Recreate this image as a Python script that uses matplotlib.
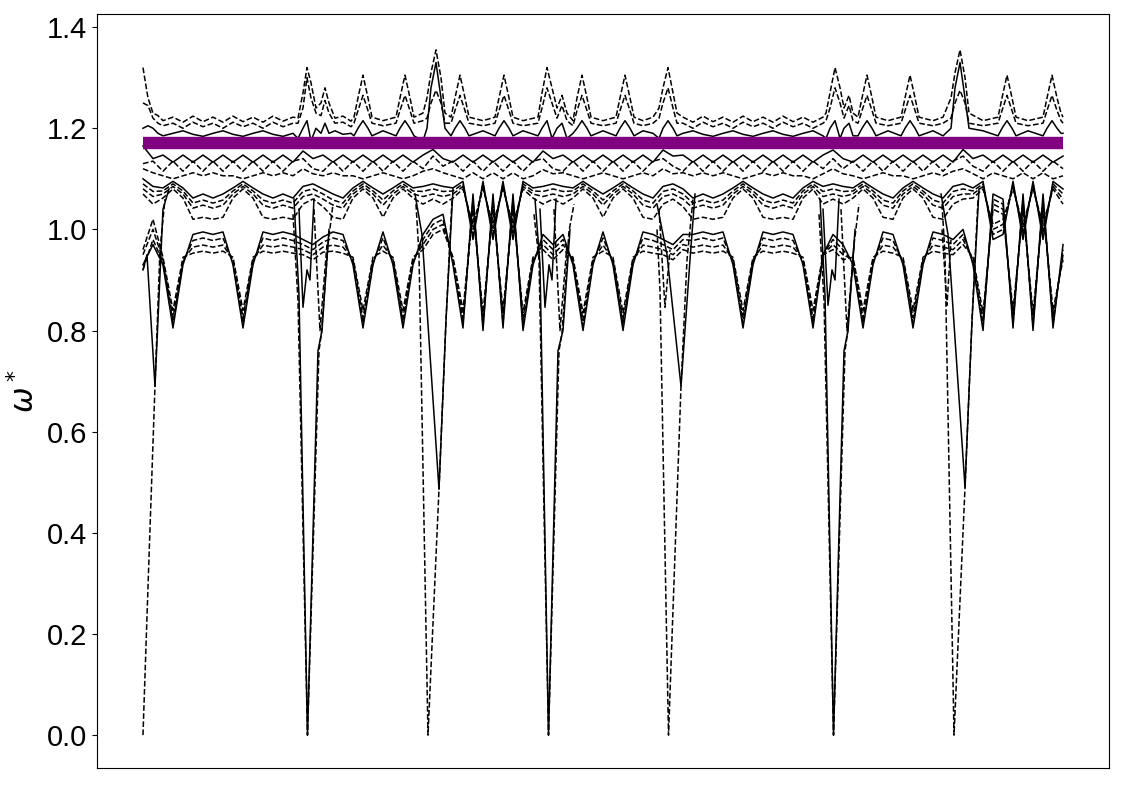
import matplotlib
matplotlib.use('Agg')
import matplotlib.pyplot as plt
import numpy as np

plt.rcParams['font.family'] = ['Liberation Sans', 'DejaVu Sans']

# path coordinate (arbitrary units along the k-path), band grid every 10 units
k_grid = np.arange(0, 921, 10)

# lower bands that dip into the ~0.8 valleys
u1 = [0.93, 0.97, 0.93, 0.805, 0.93, 0.99, 0.995, 0.99, 0.995, 0.93,
      0.805, 0.93, 0.995, 0.99, 0.995, 0.99, 0.98, 0.97, 0.985, 0.995,
      0.99, 0.93, 0.805, 0.93, 0.995, 0.93, 0.805, 0.93, 0.99, 1.02,
      1.03, 0.93, 0.805, 1.07, 0.80, 1.07, 0.805, 1.07, 0.80, 0.93,
      0.99, 0.97, 0.99, 0.93, 0.80, 0.93, 0.995, 0.93, 0.80, 0.93,
      0.995, 0.99, 0.98, 0.97, 0.99, 0.99, 0.995, 0.99, 0.995, 0.93,
      0.805, 0.93, 0.995, 0.99, 0.995, 0.99, 0.93, 0.805, 0.95, 0.99,
      0.97, 0.93, 0.805, 0.93, 0.995, 0.99, 0.93, 0.805, 0.93, 0.995,
      0.99, 0.98, 1.0, 0.93, 0.80, 1.07, 1.06, 0.805, 1.07, 0.80,
      1.07, 0.805, 0.97]
u2 = [0.92, 0.98, 0.935, 0.815, 0.935, 0.978, 0.983, 0.978, 0.983, 0.935,
      0.815, 0.935, 0.983, 0.978, 0.983, 0.978, 0.97, 0.96, 0.975, 0.983,
      0.978, 0.935, 0.815, 0.935, 0.983, 0.935, 0.815, 0.935, 0.98, 1.01,
      1.02, 0.935, 0.815, 1.06, 0.81, 1.06, 0.815, 1.06, 0.81, 0.935,
      0.98, 0.96, 0.98, 0.935, 0.81, 0.935, 0.983, 0.935, 0.81, 0.935,
      0.983, 0.978, 0.97, 0.96, 0.98, 0.978, 0.983, 0.978, 0.983, 0.935,
      0.815, 0.935, 0.983, 0.978, 0.983, 0.978, 0.935, 0.815, 0.95, 0.98,
      0.96, 0.935, 0.815, 0.935, 0.983, 0.978, 0.935, 0.815, 0.935, 0.983,
      0.978, 0.97, 0.99, 0.935, 0.81, 1.06, 1.05, 0.815, 1.06, 0.81,
      1.06, 0.815, 0.96]
u3 = [0.95, 1.0, 0.94, 0.825, 0.94, 0.965, 0.969, 0.965, 0.969, 0.94,
      0.825, 0.94, 0.969, 0.965, 0.969, 0.965, 0.96, 0.95, 0.965, 0.969,
      0.965, 0.94, 0.825, 0.94, 0.969, 0.94, 0.825, 0.94, 0.97, 1.0,
      1.01, 0.94, 0.825, 1.05, 0.82, 1.05, 0.825, 1.05, 0.82, 0.94,
      0.97, 0.95, 0.97, 0.94, 0.82, 0.94, 0.969, 0.94, 0.82, 0.94,
      0.969, 0.965, 0.96, 0.95, 0.97, 0.965, 0.969, 0.965, 0.969, 0.94,
      0.825, 0.94, 0.969, 0.965, 0.969, 0.965, 0.94, 0.825, 0.95, 0.97,
      0.95, 0.94, 0.825, 0.94, 0.969, 0.965, 0.94, 0.825, 0.94, 0.969,
      0.965, 0.96, 0.98, 0.94, 0.82, 1.05, 1.04, 0.825, 1.05, 0.82,
      1.05, 0.825, 0.95]
u4 = [0.96, 1.02, 0.945, 0.84, 0.945, 0.953, 0.957, 0.953, 0.957, 0.945,
      0.84, 0.945, 0.957, 0.953, 0.957, 0.953, 0.95, 0.94, 0.955, 0.957,
      0.953, 0.945, 0.84, 0.945, 0.957, 0.945, 0.84, 0.945, 0.96, 0.99,
      1.0, 0.945, 0.84, 1.04, 0.835, 1.04, 0.84, 1.04, 0.835, 0.945,
      0.96, 0.94, 0.96, 0.945, 0.835, 0.945, 0.957, 0.945, 0.835, 0.945,
      0.957, 0.953, 0.95, 0.94, 0.96, 0.953, 0.957, 0.953, 0.957, 0.945,
      0.84, 0.945, 0.957, 0.953, 0.957, 0.953, 0.945, 0.84, 0.95, 0.96,
      0.94, 0.945, 0.84, 0.945, 0.957, 0.953, 0.945, 0.84, 0.945, 0.957,
      0.953, 0.95, 0.97, 0.945, 0.835, 1.04, 1.03, 0.84, 1.04, 0.835,
      1.04, 0.84, 0.94]

# bands that bulge up to ~1.09 over the valleys
n1 = [1.10, 1.085, 1.082, 1.095, 1.082, 1.062, 1.07, 1.062, 1.07, 1.082,
      1.095, 1.082, 1.07, 1.062, 1.07, 1.062, 1.085, 1.09, 1.08, 1.07,
      1.062, 1.082, 1.095, 1.082, 1.07, 1.082, 1.095, 1.082, 1.085, 1.09,
      1.085, 1.082, 1.095, 0.98, 1.095, 0.98, 1.095, 0.98, 1.095, 1.082,
      1.085, 1.09, 1.085, 1.082, 1.095, 1.082, 1.07, 1.082, 1.095, 1.082,
      1.07, 1.062, 1.085, 1.09, 1.08, 1.062, 1.07, 1.062, 1.07, 1.082,
      1.095, 1.082, 1.07, 1.062, 1.07, 1.062, 1.082, 1.095, 1.085, 1.09,
      1.085, 1.082, 1.095, 1.082, 1.07, 1.062, 1.082, 1.095, 1.082, 1.07,
      1.062, 1.085, 1.09, 1.082, 1.095, 0.98, 0.99, 1.095, 0.98, 1.095,
      0.98, 1.095, 1.08]
n2 = [1.09, 1.075, 1.076, 1.09, 1.076, 1.052, 1.058, 1.052, 1.058, 1.076,
      1.09, 1.076, 1.058, 1.052, 1.058, 1.052, 1.075, 1.08, 1.07, 1.058,
      1.052, 1.076, 1.09, 1.076, 1.058, 1.076, 1.09, 1.076, 1.075, 1.08,
      1.075, 1.076, 1.09, 0.99, 1.09, 0.99, 1.09, 0.99, 1.09, 1.076,
      1.075, 1.08, 1.075, 1.076, 1.09, 1.076, 1.058, 1.076, 1.09, 1.076,
      1.058, 1.052, 1.075, 1.08, 1.07, 1.052, 1.058, 1.052, 1.058, 1.076,
      1.09, 1.076, 1.058, 1.052, 1.058, 1.052, 1.076, 1.09, 1.075, 1.08,
      1.075, 1.076, 1.09, 1.076, 1.058, 1.052, 1.076, 1.09, 1.076, 1.058,
      1.052, 1.075, 1.08, 1.076, 1.09, 0.99, 1.0, 1.09, 0.99, 1.09,
      0.99, 1.09, 1.07]
n3 = [1.08, 1.065, 1.07, 1.085, 1.07, 1.042, 1.048, 1.042, 1.048, 1.07,
      1.085, 1.07, 1.048, 1.042, 1.048, 1.042, 1.065, 1.07, 1.06, 1.048,
      1.042, 1.07, 1.085, 1.07, 1.048, 1.07, 1.085, 1.07, 1.065, 1.07,
      1.065, 1.07, 1.085, 1.0, 1.085, 1.0, 1.085, 1.0, 1.085, 1.07,
      1.065, 1.07, 1.065, 1.07, 1.085, 1.07, 1.048, 1.07, 1.085, 1.07,
      1.048, 1.042, 1.065, 1.07, 1.06, 1.042, 1.048, 1.042, 1.048, 1.07,
      1.085, 1.07, 1.048, 1.042, 1.048, 1.042, 1.07, 1.085, 1.065, 1.07,
      1.065, 1.07, 1.085, 1.07, 1.048, 1.042, 1.07, 1.085, 1.07, 1.048,
      1.042, 1.065, 1.07, 1.07, 1.085, 1.0, 1.01, 1.085, 1.0, 1.085,
      1.0, 1.085, 1.06]
n4 = [1.07, 1.05, 1.062, 1.08, 1.062, 1.02, 1.024, 1.02, 1.024, 1.062,
      1.08, 1.062, 1.024, 1.02, 1.024, 1.02, 1.05, 1.06, 1.045, 1.024,
      1.02, 1.062, 1.08, 1.062, 1.024, 1.062, 1.08, 1.062, 1.05, 1.06,
      1.05, 1.062, 1.08, 1.01, 1.08, 1.01, 1.08, 1.01, 1.08, 1.062,
      1.05, 1.06, 1.05, 1.062, 1.08, 1.062, 1.024, 1.062, 1.08, 1.062,
      1.024, 1.02, 1.05, 1.06, 1.045, 1.02, 1.024, 1.02, 1.024, 1.062,
      1.08, 1.062, 1.024, 1.02, 1.024, 1.02, 1.062, 1.08, 1.05, 1.06,
      1.05, 1.062, 1.08, 1.062, 1.024, 1.02, 1.062, 1.08, 1.062, 1.024,
      1.02, 1.05, 1.06, 1.062, 1.08, 1.01, 1.02, 1.08, 1.01, 1.08,
      1.01, 1.08, 1.05]

# bands just under the purple line
p1 = [1.165, 1.14, 1.147, 1.133, 1.147, 1.133, 1.147, 1.133, 1.147, 1.133,
      1.147, 1.133, 1.147, 1.133, 1.147, 1.133, 1.155, 1.14, 1.147, 1.133,
      1.147, 1.133, 1.147, 1.133, 1.147, 1.133, 1.147, 1.133, 1.147, 1.158,
      1.14, 1.133, 1.147, 1.133, 1.147, 1.133, 1.147, 1.133, 1.147, 1.133,
      1.155, 1.14, 1.147, 1.133, 1.147, 1.133, 1.147, 1.133, 1.147, 1.133,
      1.147, 1.133, 1.157, 1.145, 1.147, 1.133, 1.147, 1.133, 1.147, 1.133,
      1.147, 1.133, 1.147, 1.133, 1.147, 1.133, 1.147, 1.133, 1.147, 1.157,
      1.14, 1.133, 1.147, 1.133, 1.147, 1.133, 1.147, 1.133, 1.147, 1.133,
      1.147, 1.133, 1.158, 1.14, 1.147, 1.133, 1.147, 1.133, 1.147, 1.133,
      1.147, 1.133, 1.145]
p2 = [1.13, 1.135, 1.115, 1.135, 1.115, 1.135, 1.115, 1.135, 1.115, 1.135,
      1.115, 1.135, 1.115, 1.135, 1.115, 1.135, 1.14, 1.12, 1.115, 1.135,
      1.115, 1.135, 1.115, 1.135, 1.115, 1.135, 1.115, 1.135, 1.12, 1.145,
      1.125, 1.135, 1.115, 1.135, 1.115, 1.135, 1.115, 1.135, 1.115, 1.135,
      1.14, 1.12, 1.115, 1.135, 1.115, 1.135, 1.115, 1.135, 1.115, 1.135,
      1.115, 1.135, 1.14, 1.125, 1.115, 1.135, 1.115, 1.135, 1.115, 1.135,
      1.115, 1.135, 1.115, 1.135, 1.115, 1.135, 1.115, 1.135, 1.12, 1.14,
      1.12, 1.135, 1.115, 1.135, 1.115, 1.135, 1.115, 1.135, 1.115, 1.135,
      1.115, 1.135, 1.145, 1.125, 1.115, 1.135, 1.115, 1.135, 1.115, 1.135,
      1.115, 1.135, 1.12]
p3 = [1.12, 1.112, 1.106, 1.1, 1.106, 1.112, 1.106, 1.112, 1.106, 1.106,
      1.1, 1.106, 1.112, 1.106, 1.112, 1.106, 1.12, 1.11, 1.106, 1.112,
      1.106, 1.106, 1.1, 1.106, 1.112, 1.106, 1.1, 1.106, 1.115, 1.12,
      1.112, 1.106, 1.1, 1.112, 1.1, 1.112, 1.1, 1.112, 1.1, 1.106,
      1.118, 1.11, 1.112, 1.106, 1.1, 1.106, 1.112, 1.106, 1.1, 1.106,
      1.112, 1.106, 1.12, 1.11, 1.112, 1.106, 1.112, 1.106, 1.112, 1.106,
      1.1, 1.106, 1.112, 1.106, 1.112, 1.106, 1.106, 1.1, 1.11, 1.12,
      1.11, 1.106, 1.1, 1.106, 1.112, 1.106, 1.106, 1.1, 1.106, 1.112,
      1.106, 1.115, 1.12, 1.11, 1.1, 1.112, 1.106, 1.1, 1.112, 1.1,
      1.112, 1.1, 1.106]

# upper bands with narrow peaks
top_x = [0, 5, 10, 15, 20, 30, 40, 50, 60, 70, 80, 90, 100, 110, 120, 130, 140, 150,
         155, 160, 164, 168, 173, 178, 182, 186, 192, 200, 208,
         211, 215, 220, 225, 229, 240,
         253, 257, 262, 267, 271, 280,
         284, 288, 293, 298, 302,
         308, 312, 317, 322, 326,
         340, 352, 356, 361, 366, 370, 380,
         395, 399, 404, 409, 414, 419, 424, 430,
         434, 439, 444, 448, 460,
         473, 477, 482, 487, 491, 500, 510,
         516, 520, 525, 530, 534,
         540, 550, 560, 570, 580, 590, 600, 610, 620, 630, 640, 650, 660, 670, 680,
         683, 687, 692, 697, 701, 706, 710,
         715, 719, 724, 729, 733, 745,
         758, 762, 767, 772, 776, 790,
         800, 808, 812, 817, 822, 826,
         840, 855, 859, 864, 869, 873, 885,
         900, 904, 909, 914, 918, 920]
top_outer = [1.32, 1.26, 1.23, 1.225, 1.215, 1.222, 1.212, 1.224, 1.213, 1.222, 1.212, 1.224, 1.213, 1.222, 1.212, 1.224, 1.214, 1.222,
             1.22, 1.27, 1.32, 1.29, 1.24, 1.25, 1.28, 1.25, 1.22, 1.224, 1.214,
             1.222, 1.26, 1.305, 1.26, 1.222, 1.215,
             1.222, 1.26, 1.305, 1.26, 1.222, 1.23,
             1.26, 1.31, 1.355, 1.3, 1.23,
             1.222, 1.26, 1.305, 1.26, 1.222,
             1.215, 1.222, 1.26, 1.305, 1.26, 1.222, 1.215,
             1.222, 1.27, 1.32, 1.28, 1.24, 1.265, 1.23, 1.215,
             1.26, 1.305, 1.26, 1.222, 1.215,
             1.222, 1.26, 1.305, 1.26, 1.222, 1.215, 1.222,
             1.24, 1.28, 1.32, 1.27, 1.23,
             1.222, 1.212, 1.224, 1.213, 1.222, 1.212, 1.224, 1.213, 1.222, 1.212, 1.224, 1.213, 1.222, 1.212, 1.222,
             1.23, 1.27, 1.32, 1.28, 1.24, 1.265, 1.23,
             1.222, 1.26, 1.305, 1.26, 1.222, 1.215,
             1.222, 1.26, 1.305, 1.26, 1.222, 1.215,
             1.222, 1.26, 1.31, 1.355, 1.3, 1.23,
             1.215, 1.222, 1.26, 1.305, 1.26, 1.222, 1.215,
             1.222, 1.26, 1.305, 1.26, 1.23, 1.222]
top_inner = [1.25, 1.245, 1.22, 1.21, 1.205, 1.21, 1.2, 1.212, 1.203, 1.21, 1.2, 1.212, 1.203, 1.21, 1.2, 1.212, 1.203, 1.21,
             1.21, 1.24, 1.3, 1.26, 1.23, 1.225, 1.255, 1.23, 1.21, 1.212, 1.203,
             1.21, 1.235, 1.265, 1.235, 1.21, 1.205,
             1.21, 1.235, 1.265, 1.235, 1.21, 1.215,
             1.22, 1.25, 1.275, 1.25, 1.21,
             1.21, 1.235, 1.265, 1.235, 1.21,
             1.205, 1.21, 1.235, 1.265, 1.235, 1.21, 1.205,
             1.21, 1.24, 1.28, 1.25, 1.22, 1.245, 1.215, 1.205,
             1.235, 1.265, 1.235, 1.21, 1.205,
             1.21, 1.235, 1.265, 1.235, 1.21, 1.205, 1.21,
             1.22, 1.25, 1.28, 1.24, 1.21,
             1.21, 1.2, 1.212, 1.203, 1.21, 1.2, 1.212, 1.203, 1.21, 1.2, 1.212, 1.203, 1.21, 1.2, 1.21,
             1.215, 1.24, 1.28, 1.25, 1.22, 1.245, 1.215,
             1.21, 1.235, 1.265, 1.235, 1.21, 1.205,
             1.21, 1.235, 1.265, 1.235, 1.21, 1.205,
             1.21, 1.22, 1.25, 1.275, 1.25, 1.21,
             1.205, 1.21, 1.235, 1.265, 1.235, 1.21, 1.205,
             1.21, 1.235, 1.265, 1.235, 1.215, 1.21]
top_solid = [1.2, 1.205, 1.2, 1.19, 1.185, 1.19, 1.195, 1.188, 1.184, 1.19, 1.195, 1.188, 1.184, 1.19, 1.195, 1.188, 1.184, 1.19,
             1.18, 1.2, 1.215, 1.175, 1.2, 1.19, 1.21, 1.19, 1.195, 1.188, 1.19,
             1.185, 1.2, 1.215, 1.2, 1.185, 1.195,
             1.185, 1.2, 1.215, 1.2, 1.185, 1.175,
             1.2, 1.28, 1.33, 1.26, 1.2,
             1.185, 1.2, 1.215, 1.2, 1.185,
             1.195, 1.185, 1.2, 1.215, 1.2, 1.185, 1.195,
             1.185, 1.2, 1.215, 1.18, 1.2, 1.21, 1.18, 1.19,
             1.2, 1.215, 1.2, 1.185, 1.195,
             1.185, 1.2, 1.215, 1.2, 1.185, 1.195, 1.19,
             1.18, 1.2, 1.215, 1.2, 1.185,
             1.19, 1.195, 1.188, 1.184, 1.19, 1.195, 1.188, 1.184, 1.19, 1.195, 1.188, 1.184, 1.19, 1.195, 1.185,
             1.18, 1.2, 1.215, 1.18, 1.2, 1.21, 1.185,
             1.185, 1.2, 1.215, 1.2, 1.185, 1.195,
             1.185, 1.2, 1.215, 1.2, 1.185, 1.195,
             1.185, 1.2, 1.28, 1.33, 1.26, 1.2,
             1.195, 1.185, 1.2, 1.215, 1.2, 1.185, 1.195,
             1.185, 1.2, 1.215, 1.2, 1.19, 1.19]

# sharp dips near the zone boundaries (dashed and solid)
dip_dashed_x = [[0, 6, 12, 17, 22],
                [150, 155, 164.5, 176, 178.5, 185, 190],
                [273, 276, 285, 296, 303, 309],
                [391, 396, 405.5, 416, 419, 426, 431],
                [514, 517, 525.5, 538, 544, 550],
                [676, 681, 690.5, 702, 704.5, 711, 716],
                [799, 802, 811, 822, 829, 835],
                [171, 177, 184],
                [411, 417, 424],
                [698, 704, 711],
                [516, 522, 527],
                [799, 804, 808]]
dip_dashed_y = [[0.0, 0.35, 0.69, 0.96, 1.06],
                [1.03, 0.86, 0.0, 0.76, 0.795, 0.97, 1.05],
                [1.05, 0.95, 0.0, 0.486, 0.82, 1.06],
                [1.03, 0.94, 0.0, 0.76, 0.795, 0.997, 1.05],
                [1.0, 0.88, 0.0, 0.69, 0.94, 1.06],
                [1.03, 0.86, 0.0, 0.76, 0.795, 0.97, 1.05],
                [1.05, 0.95, 0.0, 0.49, 0.82, 1.06],
                [1.04, 0.80, 0.97],
                [1.04, 0.80, 0.97],
                [1.04, 0.80, 0.97],
                [1.04, 0.846, 0.96],
                [1.0, 0.85, 0.98]]
dip_solid_x = [[0, 4, 12, 20, 26],
               [151, 156, 164.5, 175, 179, 186],
               [272, 279, 296, 303, 310],
               [392, 397, 405.5, 415, 420, 427],
               [514, 524, 538, 547, 552],
               [677, 682, 690.5, 701, 705, 712],
               [798, 805, 822, 829, 836],
               [156, 160, 164, 167, 171],
               [397, 402, 406, 409, 413],
               [680, 685, 689, 692, 696]]
dip_solid_y = [[0.92, 0.95, 0.69, 1.04, 1.08],
               [1.06, 0.87, 0.0, 0.76, 0.80, 1.0],
               [1.07, 0.99, 0.486, 0.82, 1.08],
               [1.06, 0.93, 0.0, 0.76, 0.80, 1.0],
               [1.05, 0.95, 0.69, 0.94, 1.07],
               [1.06, 0.87, 0.0, 0.76, 0.80, 1.0],
               [1.07, 0.99, 0.49, 0.82, 1.08],
               [1.04, 0.846, 0.92, 0.90, 1.06],
               [1.04, 0.846, 0.93, 0.90, 1.06],
               [1.04, 0.85, 0.92, 0.90, 1.06]]

# flat reference level
ref_x = [0, 920]
ref_level = 1.17


fig = plt.figure(figsize=(11.25, 7.85), dpi=100)
ax = fig.add_axes([0.0862, 0.0217, 0.8996, 0.9605])

lw = 1.1
for y in [u2, u3, u4, n2, n3, n4, p2, p3]:
    ax.plot(k_grid, y, color='k', ls='--', lw=lw)
for y in [u1, n1, p1]:
    ax.plot(k_grid, y, color='k', ls='-', lw=lw)

ax.plot(top_x, top_outer, color='k', ls='--', lw=lw)
ax.plot(top_x, top_inner, color='k', ls='--', lw=lw)
ax.plot(top_x, top_solid, color='k', ls='-', lw=lw)

for xs, ys in zip(dip_dashed_x, dip_dashed_y):
    ax.plot(xs, ys, color='k', ls='--', lw=lw)
for xs, ys in zip(dip_solid_x, dip_solid_y):
    ax.plot(xs, ys, color='k', ls='-', lw=lw)

ax.plot(ref_x, [ref_level, ref_level], color='purple', lw=8.9,
        solid_capstyle='butt', zorder=5)

ax.set_xlim(-46, 966)
ax.set_ylim(-0.065, 1.426)
ax.set_xticks([])
ax.set_yticks([0.0, 0.2, 0.4, 0.6, 0.8, 1.0, 1.2, 1.4])
ax.tick_params(axis='y', labelsize=21)
ax.set_ylabel(r'$\omega^*$', fontsize=22)

fig.savefig('out.png', dpi=100)
